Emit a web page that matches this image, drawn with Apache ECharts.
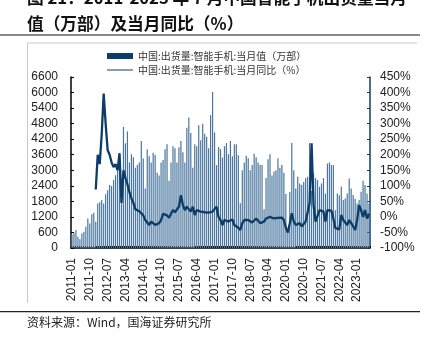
<!DOCTYPE html>
<html><head><meta charset="utf-8">
<script src="https://cdn.jsdelivr.net/npm/echarts@6/dist/echarts.min.js"></script>
<style>html,body{margin:0;padding:0;background:#fff}#c{width:430px;height:337px}</style>
</head><body><div id="c"></div>
<script>
// months 2011-01 .. 2023-07
const categories = [];
for (let y = 2011; y <= 2023; y++) for (let m = 1; m <= 12; m++) {
  if (y === 2023 && m > 7) break;
  categories.push(y + '-' + (m < 10 ? '0' + m : m));
}
const shipments2011 = [520, 590, 690, 430, 340, 560, 630, 820, 1140, 950, 1300, 1360];
const shipments2012 = [1015, 1720, 1770, 1850, 1720, 2070, 2230, 2430, 2390, 2620, 2810, 3130];
const shipments2013 = [3300, 2500, 4670, 4040, 4500, 3300, 3620, 3500, 3100, 3200, 3300, 4130];
const shipments2014 = [3450, 2300, 3800, 3540, 3300, 3680, 3600, 2900, 2800, 3300, 3400, 3810];
const shipments2015 = [4000, 2600, 3300, 3930, 3850, 3300, 3890, 4130, 3700, 3300, 4640, 5040];
const shipments2016 = [4440, 3100, 4000, 3930, 4740, 4160, 4800, 4410, 4290, 3850, 5130, 6020];
const shipments2017 = [4460, 3200, 3900, 3820, 3490, 3930, 4050, 3620, 4130, 3540, 4000, 4000];
const shipments2018 = [3580, 1730, 3000, 3300, 3560, 3460, 3000, 3200, 3640, 3500, 3300, 3200];
const shipments2019 = [3200, 1500, 2700, 3430, 3620, 2800, 2950, 3000, 3460, 3100, 3200, 2900];
const shipments2020 = [2080, 650, 2160, 4050, 3000, 2300, 2750, 2490, 2430, 2550, 2700, 2750];
const shipments2021 = [4050, 2200, 2880, 2700, 2620, 2360, 2490, 2700, 2100, 3260, 3300, 3200];
const shipments2022 = [3200, 1460, 2100, 2040, 2360, 1850, 1910, 2100, 2680, 2300, 2050, 1900];
const shipments2023 = [1720, 1850, 2170, 2600, 2430, 2100, 1720];

const yoy2011 = [null, null, null, null, null, null, null, null, null, null, null, null];
const yoy2012 = [88, 200, 170, 265, 397, 300, 215, 200, 175, 160, 170, 150];
const yoy2013 = [205, 45, 150, 125, 105, 80, 60, 45, 25, 20, 18, 12];
const yoy2014 = [5, -10, -18, -26, -15, -10, -26, -31, -20, -10, 10, 15];
const yoy2015 = [5, -3, 10, 22, 15, 12, 33, 70, 38, 22, 33, 25];
const yoy2016 = [17, 33, 6, 22, 20, 17, 12, 15, 17, 14, 12, 17];
const yoy2017 = [18, 33, 0, -10, -26, -10, -12, -15, -10, -8, -26, -31];
const yoy2018 = [-35, -42, -20, -10, -5, -10, -15, -18, -20, -5, -12, -20];
const yoy2019 = [-17, -15, -5, -1, 0, -5, -5, -5, -3, -1, -2, -10];
const yoy2020 = [-35, -50, -20, 12, -15, -26, -22, -20, -31, -26, -15, -10];
const yoy2021 = [44, 237, 38, -15, -10, 22, 22, 17, -15, 22, 22, 20];
const yoy2022 = [-5, -36, -38, -40, 6, -10, -15, -26, -10, -20, -31, -42];
const yoy2023 = [-10, 38, 22, 0, 22, -5, 10];

const leftTicks = {min: 0, max: 6600, interval: 600};
const rightTicks = {min: -100, max: 450, interval: 50};
const seriesNames = ['中国:出货量:智能手机:当月值（万部）', '中国:出货量:智能手机:当月同比（%）'];

const shipments = [].concat(shipments2011, shipments2012, shipments2013, shipments2014, shipments2015,
  shipments2016, shipments2017, shipments2018, shipments2019, shipments2020, shipments2021, shipments2022, shipments2023);
const yoy = [].concat(yoy2011, yoy2012, yoy2013, yoy2014, yoy2015, yoy2016, yoy2017, yoy2018,
  yoy2019, yoy2020, yoy2021, yoy2022, yoy2023);

const navy = '#0c3d68';
const chart = echarts.init(document.getElementById('c'), null, {renderer: 'canvas'});
chart.setOption({
  animation: false,
  textStyle: {fontFamily: 'Liberation Sans, Arial, sans-serif'},
  grid: {left: 71, right: 60, top: 77, bottom: 89, containLabel: false},
  legend: {
    left: 102, top: 46, orient: 'vertical', itemGap: 4, itemWidth: 26, itemHeight: 6,
    textStyle: {fontFamily: 'Noto Sans CJK SC', fontSize: 10, color: '#333'},
    data: [
      {name: seriesNames[0], icon: 'rect', itemStyle: {color: navy}},
      {name: seriesNames[1], icon: 'path://M0,0 L26,0 L26,1 L0,1 Z', itemStyle: {color: navy}}
    ]
  },
  xAxis: {
    type: 'category', data: categories, boundaryGap: true,
    axisLine: {lineStyle: {color: '#000', width: 1.5}},
    axisTick: {show: true, interval: 0, length: 2, inside: true, lineStyle: {color: '#000', width: 1}},
    axisLabel: {interval: 8, rotate: 90, fontSize: 12, color: '#222', margin: 10}
  },
  yAxis: [
    {type: 'value', min: leftTicks.min, max: leftTicks.max, interval: leftTicks.interval,
     axisLine: {show: true, lineStyle: {color: '#000', width: 1.5}},
     axisTick: {show: true, inside: true, length: 3, lineStyle: {color: '#000'}},
     splitLine: {show: false},
     axisLabel: {fontSize: 12, color: '#222', margin: 13, formatter: v => String(v)}},
    {type: 'value', min: rightTicks.min, max: rightTicks.max, interval: rightTicks.interval,
     position: 'right',
     axisLine: {show: true, lineStyle: {color: navy, width: 1.5}},
     axisTick: {show: true, inside: true, length: 3, lineStyle: {color: navy}},
     splitLine: {show: false},
     axisLabel: {fontSize: 12, color: '#222', margin: 10, formatter: '{value}%'}}
  ],
  series: [
    {name: seriesNames[0], type: 'bar', data: shipments, yAxisIndex: 0, barWidth: 1.2,
     itemStyle: {color: '#4a769e'}},
    {name: seriesNames[1], type: 'line', data: yoy, yAxisIndex: 1, symbol: 'none',
     lineStyle: {color: navy, width: 2.3}, itemStyle: {color: navy}, connectNulls: false}
  ],
  graphic: [
    {type: 'text', left: 27, top: -11, style: {text: '图 21：2011-2023 年 7 月中国智能手机出货量当月', font: 'bold 16.7px "Noto Sans CJK SC"', fill: '#111'}},
    {type: 'text', left: 27, top: 15, style: {text: '值（万部）及当月同比（%）', font: 'bold 16.7px "Noto Sans CJK SC"', fill: '#111'}},
    {type: 'rect', shape: {x: 0, y: 34, width: 420, height: 2}, style: {fill: '#8a8a8a'}},
    {type: 'line', shape: {x1: 27, y1: 43, x2: 417, y2: 43}, style: {stroke: '#c8c8c8', lineWidth: 1}},
    {type: 'line', shape: {x1: 27.5, y1: 43, x2: 27.5, y2: 303}, style: {stroke: '#c8c8c8', lineWidth: 1}},
    {type: 'rect', shape: {x: 0, y: 311, width: 420, height: 1.2}, style: {fill: '#222'}},
    {type: 'text', left: 27, top: 316, style: {text: '资料来源：Wind，国海证券研究所', font: '12px "Noto Sans CJK SC"', fill: '#222'}}
  ]
});
</script></body></html>
